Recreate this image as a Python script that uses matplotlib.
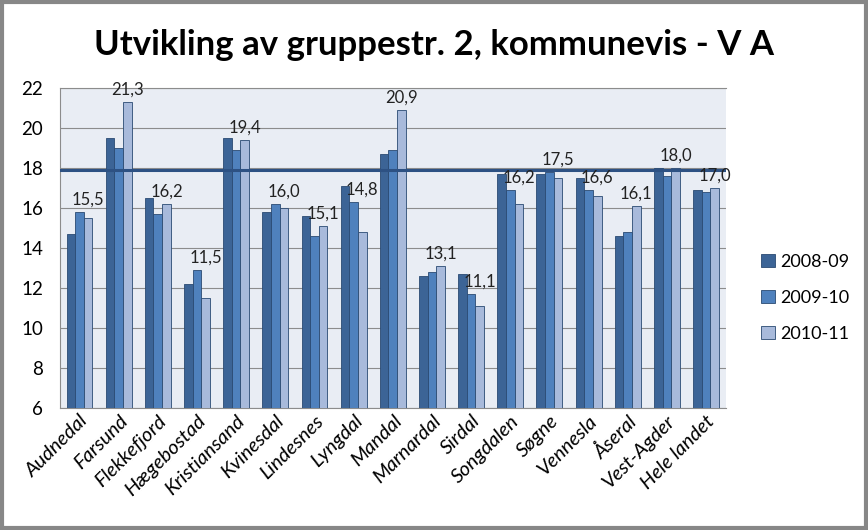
import matplotlib
matplotlib.use("Agg")
import numpy as np
import matplotlib.pyplot as plt
from matplotlib.patches import Rectangle

# --- Data ---
kommuner = ["Audnedal", "Farsund", "Flekkefjord", "Hægebostad", "Kristiansand",
            "Kvinesdal", "Lindesnes", "Lyngdal", "Mandal", "Marnardal", "Sirdal",
            "Songdalen", "Søgne", "Vennesla", "Åseral", "Vest-Agder", "Hele landet"]
s2008_09 = [14.7, 19.5, 16.5, 12.2, 19.5, 15.8, 15.6, 17.1, 18.7, 12.6, 12.7,
            17.7, 17.7, 17.5, 14.6, 18.0, 16.9]
s2009_10 = [15.8, 19.0, 15.7, 12.9, 18.9, 16.2, 14.6, 16.3, 18.9, 12.8, 11.7,
            16.9, 17.8, 16.9, 14.8, 17.6, 16.8]
s2010_11 = [15.5, 21.3, 16.2, 11.5, 19.4, 16.0, 15.1, 14.8, 20.9, 13.1, 11.1,
            16.2, 17.5, 16.6, 16.1, 18.0, 17.0]
serier = ["2008-09", "2009-10", "2010-11"]
norm_linje = 17.9

# --- Style ---
farger = ["#3C6496", "#4F81BD", "#A8BADB"]
kant = "#2A4A72"
plt.rcParams["font.family"] = ["Lato", "DejaVu Sans"]

fig = plt.figure(figsize=(8.68, 5.30), dpi=100)
ax = fig.add_axes([0.069, 0.230, 0.767, 0.604])
ax.set_facecolor("#E9EDF4")

x = np.arange(len(kommuner))
w = 0.22
for i, (navn, verdier) in enumerate(zip(serier, [s2008_09, s2009_10, s2010_11])):
    ax.bar(x + (i - 1) * w, verdier, width=w, color=farger[i], edgecolor=kant,
           linewidth=0.6, label=navn, zorder=3)

# data labels for 2010-11, lifted clear of the two lighter bars
for xi, v2, v3 in zip(x, s2009_10, s2010_11):
    ax.text(xi + w, max(v2, v3) + 0.2, f"{v3:.1f}".replace(".", ","), ha="center",
            va="bottom", fontsize=12, color="#222222", zorder=5)

ax.axhline(norm_linje, color="#2D5183", linewidth=2.2, zorder=4)

ax.set_ylim(6, 22)
ax.set_xlim(-0.5, len(kommuner) - 0.5)
ax.set_yticks(range(6, 23, 2))
ax.yaxis.grid(True, color="#8C8C8C", linewidth=0.8, zorder=0)
ax.tick_params(axis="y", length=0, labelsize=13.5, pad=12)
ax.tick_params(axis="x", length=0, pad=3)
ax.set_xticks(x)
ax.set_xticklabels(kommuner, rotation=45, ha="right", rotation_mode="anchor",
                   fontsize=14.5, fontstyle="italic")
ax.spines["right"].set_visible(False)
for side in ["left", "bottom", "top"]:
    ax.spines[side].set_color("#8C8C8C")

fig.text(0.5, 0.915, "Utvikling av gruppestr. 2, kommunevis - V A", ha="center",
         va="center", fontsize=25, fontweight="bold")

fig.legend(loc="center left", bbox_to_anchor=(0.858, 0.438), frameon=False,
           fontsize=13, handlelength=0.75, handleheight=0.75, labelspacing=1.1,
           handletextpad=0.3)

# grey frame round the whole chart
fig.patches.append(Rectangle((0.002, 0.003), 0.996, 0.994, transform=fig.transFigure,
                             fill=False, edgecolor="#878787", linewidth=3))

fig.savefig("out.png", dpi=100)
